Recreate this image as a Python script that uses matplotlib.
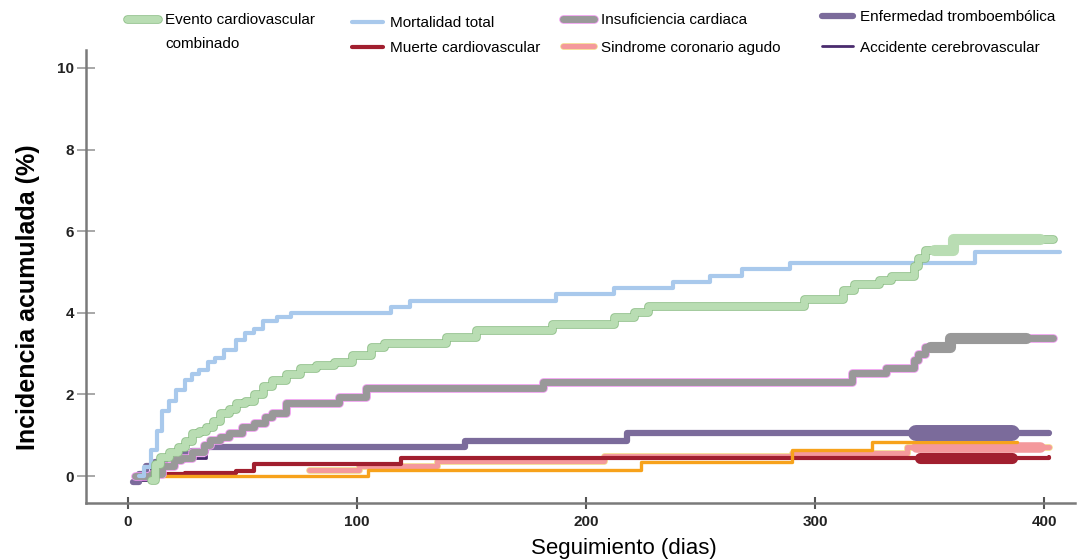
import numpy as np
import matplotlib
matplotlib.use("Agg")
import matplotlib.pyplot as plt
import matplotlib.patheffects as pe

plt.rcParams['font.family'] = ['Liberation Sans', 'DejaVu Sans']

# dias de seguimiento (inicio de cada escalon) y incidencia acumulada (%)
evento_dias = [10, 12, 14, 18, 22, 25, 28, 31, 34, 37, 40, 44, 47, 51, 55, 59, 63, 69, 75, 82,
               90, 98, 106, 112, 139, 152, 185, 212, 221, 227, 295, 312, 317, 328, 333, 343,
               345, 348, 360, 404]
evento_vals = [-0.1, 0.3, 0.47, 0.6, 0.7, 0.85, 1.05, 1.1, 1.2, 1.35, 1.54, 1.65, 1.78, 1.85,
               2.0, 2.2, 2.35, 2.5, 2.65, 2.72, 2.8, 2.97, 3.16, 3.26, 3.4, 3.58, 3.72, 3.9,
               4.02, 4.17, 4.35, 4.55, 4.7, 4.8, 4.9, 5.15, 5.35, 5.55, 5.8, 5.8]

mortalidad_dias = [5, 7, 10, 12.5, 15, 18, 21, 25, 28, 31, 35, 38, 42, 47, 51, 55, 59, 65, 71,
                   115, 123, 187, 212, 238, 254, 268, 289, 370, 407]
mortalidad_vals = [0, 0.22, 0.64, 1.1, 1.6, 1.85, 2.1, 2.35, 2.5, 2.6, 2.8, 2.9, 3.1, 3.33, 3.5,
                   3.6, 3.8, 3.9, 4.0, 4.15, 4.3, 4.45, 4.6, 4.75, 4.9, 5.07, 5.22, 5.5, 5.5]

insuf_dias = [3, 10, 15, 20, 23, 28, 33, 36, 40, 44, 50, 55, 60, 63, 69, 92, 104, 181, 316,
              331, 343, 345, 348, 359, 404]
insuf_vals = [0, 0.05, 0.25, 0.4, 0.45, 0.6, 0.75, 0.88, 0.95, 1.05, 1.2, 1.3, 1.45, 1.54,
              1.78, 1.94, 2.16, 2.3, 2.52, 2.65, 2.85, 3.0, 3.16, 3.38, 3.38]

trombo_dias = [2, 5, 8, 12, 16, 20, 24, 28, 34, 147, 218, 402]
trombo_vals = [-0.15, 0.05, 0.25, 0.35, 0.45, 0.5, 0.55, 0.62, 0.71, 0.86, 1.05, 1.05]

acv_dias = [3, 10, 20, 34, 147, 218, 402]
acv_vals = [-0.1, 0.25, 0.45, 0.71, 0.86, 1.03, 1.03]

muerte_dias = [10, 15, 25, 47, 55, 119, 402]
muerte_vals = [0, 0.05, 0.08, 0.12, 0.3, 0.45, 0.47]

sca_dias = [79, 101, 135, 208, 290, 340, 402]
sca_vals = [0.15, 0.25, 0.36, 0.5, 0.56, 0.7, 0.7]

naranja_dias = [15, 105, 224, 290, 325, 388]
naranja_vals = [0, 0.15, 0.34, 0.64, 0.83, 0.83]

yticks = [0, 2, 4, 6, 8, 10]
xticks = [0, 100, 200, 300, 400]


def tramo(dias, vals, a, b):
    """ Puntos del escalon entre el dia a y el dia b """
    dias = np.asarray(dias, float)
    vals = np.asarray(vals, float)
    i = np.searchsorted(dias, a, side='right') - 1
    j = np.searchsorted(dias, b, side='right') - 1
    xs = np.concatenate([[a], dias[i + 1:j + 1], [b]])
    ys = np.concatenate([[vals[i]], vals[i + 1:j + 1], [vals[j]]])
    return xs, ys


def main():
    fig = plt.figure(figsize=(10.81, 5.59), dpi=100)
    ax = fig.add_axes([0.0796, 0.1002, 0.9149, 0.8104])

    # (dias, valores, color, ancho, borde, etiqueta, grosor extra, tramo grueso, zorder)
    series = [
        (acv_dias, acv_vals, '#4a2b6e', 2.0, None, 'Accidente cerebrovascular', 0, None, 2),
        (muerte_dias, muerte_vals, '#a11f2f', 3.0, None, 'Muerte cardiovascular', 5, (346, 386), 2.2),
        (sca_dias, sca_vals, '#f4999c', 3.6, '#f3d98a', 'Sindrome coronario agudo', 4, (344, 398), 2.1),
        (naranja_dias, naranja_vals, '#f7a21b', 2.4, None, None, 0, None, 2.3),
        (trombo_dias, trombo_vals, '#7b6b9b', 4.5, None, 'Enfermedad tromboembólica', 7, (344, 386), 2.4),
        (insuf_dias, insuf_vals, '#999999', 5.0, '#ee99ee', 'Insuficiencia cardiaca', 3, (350, 392), 2.5),
        (mortalidad_dias, mortalidad_vals, '#a9c9ec', 3.0, None, 'Mortalidad total', 0, None, 2.6),
        (evento_dias, evento_vals, '#b9ddb3', 5.0, '#8fbf88', 'Evento cardiovascular', 3, (352, 398), 2.7),
    ]

    handles = {}
    for dias, vals, color, lw, edge, label, extra, rango, z in series:
        line, = ax.step(dias, vals, where='post', color=color, lw=lw, label=label,
                        solid_joinstyle='round', solid_capstyle='round', zorder=z)
        if edge is not None:
            line.set_path_effects([pe.Stroke(linewidth=lw + 1.2, foreground=edge), pe.Normal()])
        if extra:
            xs, ys = tramo(dias, vals, rango[0], rango[1])
            ax.step(xs, ys, where='post', color=color, lw=lw + extra,
                    solid_capstyle='round', solid_joinstyle='round', zorder=z)
        handles[label] = line

    ax.set_xlim(-18.3, 413.5)
    ax.set_ylim(-0.66, 10.44)
    ax.set_xticks(xticks)
    ax.set_yticks(yticks)

    for s in ['top', 'right']:
        ax.spines[s].set_visible(False)
    for s in ['left', 'bottom']:
        ax.spines[s].set_color('#7a7a7a')
        ax.spines[s].set_linewidth(1.8)

    ax.tick_params(axis='y', direction='inout', length=13, width=1.2, color='#9a9a9a',
                   labelsize=11, pad=2)
    ax.tick_params(axis='x', direction='inout', length=8, width=1.5, color='#555555',
                   labelsize=11, pad=5)
    for t in ax.get_xticklabels() + ax.get_yticklabels():
        t.set_fontweight('bold')
        t.set_color('#222222')

    ax.set_ylabel('Incidencia acumulada (%)', fontsize=18, fontweight='bold')
    ax.yaxis.set_label_coords(-0.047, 0.455)
    ax.set_xlabel('Seguimiento (dias)', fontsize=16)
    ax.xaxis.set_label_coords(0.544, -0.078)

    # leyenda en cuatro columnas por encima del grafico
    columnas = [
        (127, 13, 0.55, ['Evento cardiovascular']),
        (352, 16, 0.75, ['Mortalidad total', 'Muerte cardiovascular']),
        (563, 13, 0.9, ['Insuficiencia cardiaca', 'Sindrome coronario agudo']),
        (822, 10, 1.1, ['Enfermedad tromboembólica', 'Accidente cerebrovascular']),
    ]
    for x, y, esp, labels in columnas:
        fig.legend([handles[l] for l in labels], labels, loc='upper left',
                   bbox_to_anchor=(x / 1081, 1 - y / 559), frameon=False, fontsize=11,
                   handlelength=2.0, handletextpad=0.5, labelspacing=esp,
                   borderpad=0, borderaxespad=0)
    fig.text(165 / 1081, 1 - 44 / 559, 'combinado', fontsize=11, va='center', ha='left')

    fig.savefig('out.png', dpi=100)


if __name__ == "__main__":
    main()
